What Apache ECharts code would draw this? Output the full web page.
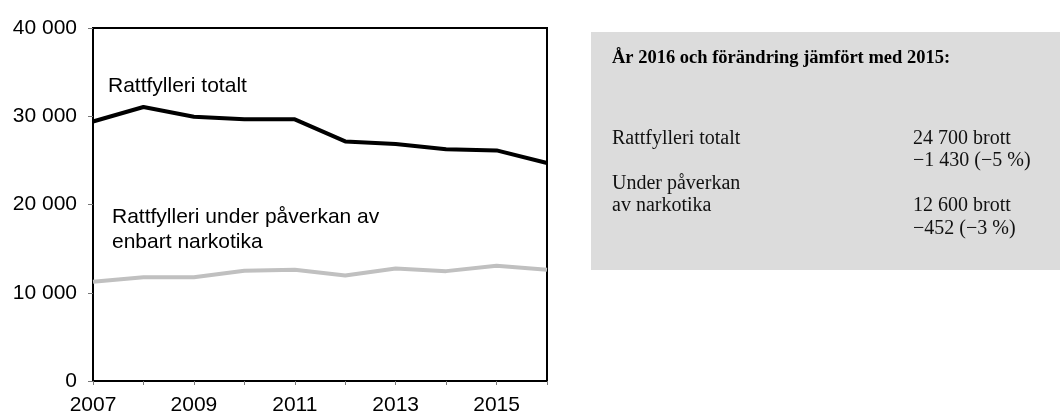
<!DOCTYPE html>
<html>
<head>
<meta charset="utf-8">
<script src="https://cdn.jsdelivr.net/npm/echarts@6/dist/echarts.min.js"></script>
<style>
  html, body { margin: 0; padding: 0; background: #fff; }
  #chart { width: 1060px; height: 414px; }
</style>
</head>
<body>
<div id="chart"></div>
<script>
// år
const years = ['2007', '2008', '2009', '2010', '2011', '2012', '2013', '2014', '2015', '2016']
// rattfylleri totalt
const totalt = [29400, 31050, 29950, 29650, 29650, 27150, 26850, 26250, 26130, 24700]
// rattfylleri under påverkan av enbart narkotika
const narkotika = [11250, 11750, 11750, 12500, 12600, 11950, 12750, 12450, 13050, 12600]
// y-axelns skala
const yMin = 0
const yMax = 40000
const yStep = 10000

const sansFont = '"Liberation Sans", Arial, sans-serif'
const serifFont = '"Liberation Serif", "DejaVu Serif", serif'

const fmt = v => String(v).replace(/\B(?=(\d{3})+(?!\d))/g, ' ')

const chart = echarts.init(document.getElementById('chart'))

chart.setOption({
  animation: false,
  grid: {
    left: 93, right: 513, top: 28, bottom: 33,
    outerBoundsMode: 'none',
    show: true, borderColor: '#000', borderWidth: 2, backgroundColor: 'transparent'
  },
  xAxis: {
    type: 'category',
    data: years,
    boundaryGap: false,
    axisLine: {lineStyle: {color: '#000', width: 2}},
    axisTick: {show: true, interval: 0, length: 4, lineStyle: {color: '#777'}},
    axisLabel: {interval: 1, color: '#000', fontSize: 21, fontFamily: sansFont, margin: 14}
  },
  yAxis: {
    type: 'value',
    min: yMin, max: yMax, interval: yStep,
    splitLine: {show: false},
    axisLine: {show: true, lineStyle: {color: '#000', width: 2}},
    axisTick: {show: true, length: 5, lineStyle: {color: '#777'}},
    axisLabel: {color: '#000', fontSize: 21, fontFamily: sansFont, margin: 16, formatter: fmt}
  },
  series: [
    {
      name: 'Rattfylleri totalt',
      type: 'line',
      data: totalt,
      symbol: 'none',
      lineStyle: {color: '#000', width: 4}
    },
    {
      name: 'Rattfylleri under påverkan av enbart narkotika',
      type: 'line',
      data: narkotika,
      symbol: 'none',
      lineStyle: {color: '#c0c0c0', width: 4}
    }
  ],
  graphic: [
    // etiketter i diagrammet
    {type: 'text', left: 108, top: 76, style: {text: 'Rattfylleri totalt', font: '21px ' + sansFont, fill: '#000'}},
    {type: 'text', left: 112, top: 205,
      style: {text: 'Rattfylleri under påverkan av\nenbart narkotika', font: '21px ' + sansFont, lineHeight: 25, fill: '#000'}},
    // faktaruta
    {type: 'rect', shape: {x: 591, y: 32, width: 469, height: 238}, style: {fill: '#dcdcdc'}},
    {type: 'text', left: 612, top: 49,
      style: {text: 'År 2016 och förändring jämfört med 2015:', font: 'bold 18.5px ' + serifFont, fill: '#000'}},
    {type: 'text', left: 612, top: 127,
      style: {text: 'Rattfylleri totalt\n\nUnder påverkan\nav narkotika', font: '20px ' + serifFont, lineHeight: 22.5, fill: '#111'}},
    {type: 'text', left: 913, top: 127,
      style: {text: '24 700 brott\n−1 430 (−5 %)\n\n12 600 brott\n−452 (−3 %)', font: '20px ' + serifFont, lineHeight: 22.5, fill: '#111'}}
  ]
})
</script>
</body>
</html>
